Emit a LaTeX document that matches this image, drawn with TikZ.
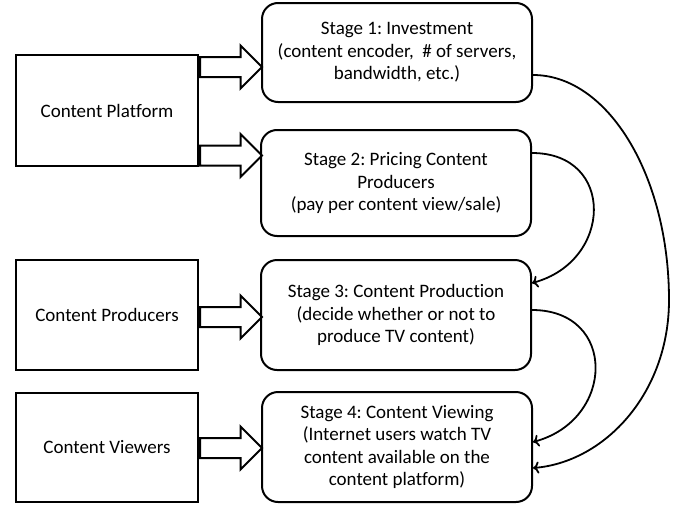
\documentclass[tikz,border=0pt]{standalone}
\usepackage{fontspec}
\setmainfont{Carlito}[Ligatures=NoCommon]
\usetikzlibrary{shapes.arrows,arrows.meta}
\frenchspacing

\begin{document}
\begin{tikzpicture}[%
    x=1pt, y=-1pt,
    every node/.style={font=\fontsize{19}{22.5}\selectfont},
    player/.style={%
        draw,
        line width=2pt,
        minimum width=182pt,
        inner sep=2pt,
    },
    stagebox/.style={%
        draw,
        line width=2pt,
        rounded corners=16pt,
        minimum width=270pt,
        align=center,
        inner sep=2pt,
    },
    fatarrow/.style={%
        single arrow,
        draw,
        line width=2pt,
        inner sep=0pt,
        inner ysep=9pt,
        minimum height=62pt,
        single arrow head extend=11.5pt,
        anchor=tail,
    },
    flow/.style={-{To[length=6pt,width=12pt]}, line width=1.8pt}
]
\useasboundingbox (0,0) rectangle (679,506);

% players
\node[player, minimum height=111pt] (plat) at (107,110.5) {Content Platform};
\node[player, minimum height=110pt] (prod) at (107,315) {Content Producers};
\node[player, minimum height=109pt] (view) at (107,447) {Content Viewers};

% stages
\node[stagebox, minimum height=99pt]  (s1) at (397,52.5)
    {Stage 1: Investment\\(content encoder,~ \# of servers,\\bandwidth, etc.)};
\node[stagebox, minimum height=106pt] (s2) at (396,183)
    {Stage 2: Pricing Content\\Producers\\(pay per content view/sale)};
\node[stagebox, minimum height=110pt] (s3) at (396,315)
    {Stage 3: Content Production\\(decide whether or not to\\produce TV content)};
\node[stagebox, minimum height=110pt] (s4) at (397,447)
    {Stage 4: Content Viewing\\(Internet users watch TV\\content available on the\\content platform)};

% block arrows
\node[fatarrow] (a1) at ([yshift=43.5pt]plat.east) {};
\node[fatarrow] (a2) at ([yshift=-45pt]plat.east) {};
\node[fatarrow] (a3) at ([yshift=-2pt]prod.east) {};
\node[fatarrow] (a4) at ([yshift=-1pt]view.east) {};

% stage order
\draw[flow] ([yshift=30pt]s2.east) to[out=0, in=15, looseness=1.65] ([yshift=32pt]s3.east);
\draw[flow] ([yshift=5pt]s3.east) to[out=0, in=15, looseness=1.65] ([yshift=5pt]s4.east);
\draw[flow] ([yshift=-22.5pt]s1.east) .. controls +(75,0) and +(0,-124) .. ++(136,225)
    .. controls +(0,93) and +(72,-6) .. ([yshift=-21pt]s4.east);

\end{tikzpicture}
\end{document}
